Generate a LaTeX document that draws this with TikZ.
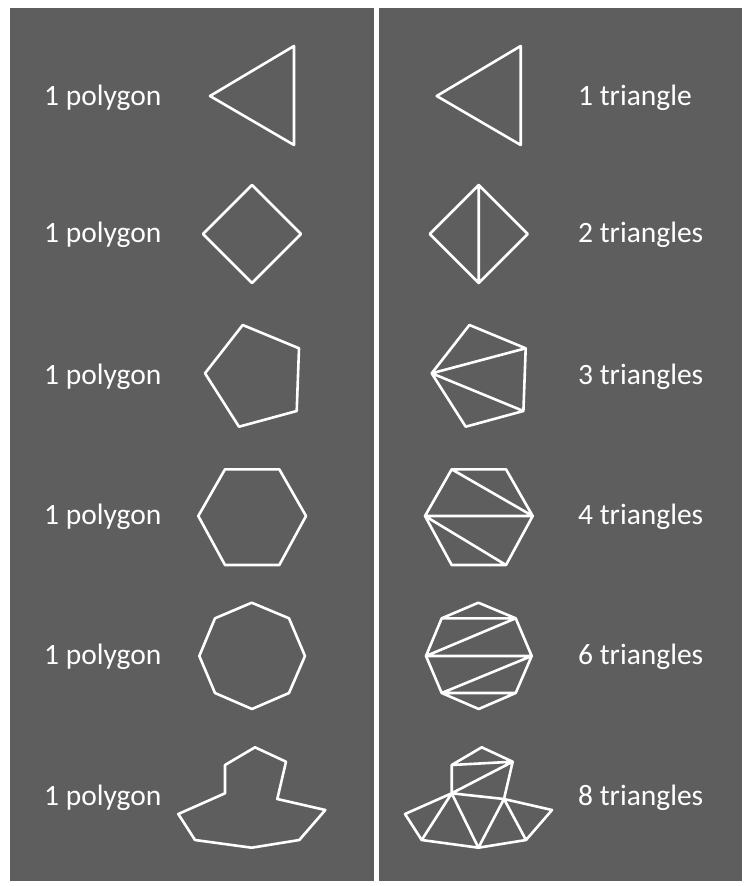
\documentclass[tikz,border=0pt]{standalone}
\usepackage{fontspec}
\setmainfont{Carlito}
\definecolor{panelgray}{RGB}{94,94,94}
\begin{document}
\begin{tikzpicture}[x=1pt,y=-1pt,
  shape line/.style={draw=white,line width=2.6pt,line join=round,line cap=round},
  label text/.style={text=white,font=\fontsize{29.5}{31}\selectfont,anchor=base west,inner sep=0pt}]
\useasboundingbox (0,0) rectangle (745,886);
\fill[white] (0,0) rectangle (745,886);
\fill[panelgray] (10,8) rectangle (374,881);
\fill[panelgray] (379,8) rectangle (742,881);
% labels
\foreach \y/\n in {97/a,234/b,376/c,516/d,656/e,797/f}{
  \node[label text] (L\n) at (44,\y+8) {1 polygon};
}
\node[label text] (R1) at (578,105) {1 triangle};
\node[label text] (R2) at (578,242) {2 triangles};
\node[label text] (R3) at (578,384) {3 triangles};
\node[label text] (R4) at (578,524) {4 triangles};
\node[label text] (R5) at (578,664) {6 triangles};
\node[label text] (R6) at (578,805) {8 triangles};
% left shapes
\draw[shape line] (210,96) -- (294,46) -- (294,145) -- cycle;
\draw[shape line] (252,185) -- (301,234) -- (252,283) -- (203,234) -- cycle;
\draw[shape line] (242.7,325) -- (299,348.3) -- (296.7,411) -- (239,426.7) -- (205,373.3) -- cycle;
\draw[shape line] (225,469.3) -- (279.3,469.3) -- (306,516) -- (279.3,565) -- (225,565) -- (198.3,516) -- cycle;
\draw[shape line] (251.7,602.7) -- (289,618.3) -- (305,656) -- (289,693) -- (252,709) -- (215,693) -- (199.3,656) -- (215,618.3) -- cycle;
\draw[shape line] (255,747.3) -- (286,761.7) -- (277.3,799) -- (325.3,810) -- (299.3,840) -- (251.7,847.7) -- (195,840) -- (178.3,814) -- (225,793.3) -- (225,765) -- cycle;
% right shapes
\begin{scope}[xshift=226.7pt]
\coordinate (t1) at (210,96); \coordinate (t2) at (294,46); \coordinate (t3) at (294,145);
\draw[shape line] (t1) -- (t2) -- (t3) -- cycle;
\coordinate (d1) at (252,185); \coordinate (d2) at (301,234); \coordinate (d3) at (252,283); \coordinate (d4) at (203,234);
\draw[shape line] (d1) -- (d2) -- (d3) -- (d4) -- cycle (d1) -- (d3);
\coordinate (p1) at (242.7,325); \coordinate (p2) at (299,348.3); \coordinate (p3) at (296.7,411); \coordinate (p4) at (239,426.7); \coordinate (p5) at (205,373.3);
\draw[shape line] (p1) -- (p2) -- (p3) -- (p4) -- (p5) -- cycle (p5) -- (p2) (p5) -- (p3);
\coordinate (h1) at (225,469.3); \coordinate (h2) at (279.3,469.3); \coordinate (h3) at (306,516); \coordinate (h4) at (279.3,565); \coordinate (h5) at (225,565); \coordinate (h6) at (198.3,516);
\draw[shape line] (h1) -- (h2) -- (h3) -- (h4) -- (h5) -- (h6) -- cycle (h1) -- (h3) (h6) -- (h3) (h6) -- (h4);
\coordinate (o1) at (251.7,602.7); \coordinate (o2) at (289,618.3); \coordinate (o3) at (305,656); \coordinate (o4) at (289,693); \coordinate (o5) at (252,709); \coordinate (o6) at (215,693); \coordinate (o7) at (199.3,656); \coordinate (o8) at (215,618.3);
\draw[shape line] (o1) -- (o2) -- (o3) -- (o4) -- (o5) -- (o6) -- (o7) -- (o8) -- cycle (o8) -- (o2) (o7) -- (o2) (o7) -- (o3) (o3) -- (o6) (o6) -- (o4);
\coordinate (q1) at (255,747.3); \coordinate (q2) at (286,761.7); \coordinate (q3) at (277.3,799); \coordinate (q4) at (325.3,810); \coordinate (q5) at (299.3,840); \coordinate (q6) at (251.7,847.7); \coordinate (q7) at (195,840); \coordinate (q8) at (178.3,814); \coordinate (q9) at (225,793.3); \coordinate (q10) at (225,765);
\draw[shape line] (q1) -- (q2) -- (q3) -- (q4) -- (q5) -- (q6) -- (q7) -- (q8) -- (q9) -- (q10) -- cycle
  (q10) -- (q2) (q9) -- (q2) (q9) -- (q3) (q9) -- (q7) (q9) -- (q6) (q3) -- (q6) (q3) -- (q5);
\end{scope}
\end{tikzpicture}
\end{document}
